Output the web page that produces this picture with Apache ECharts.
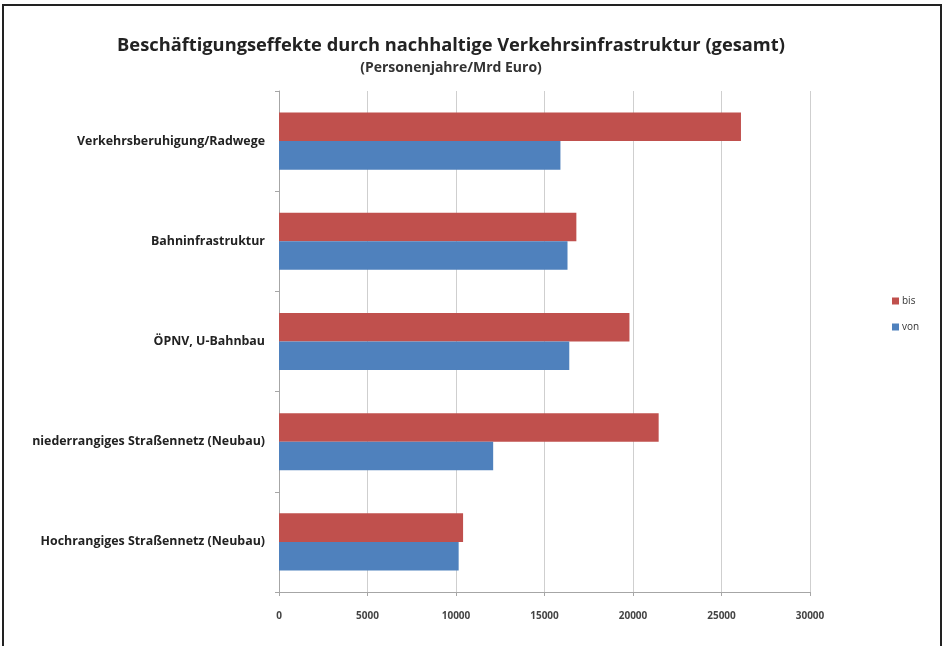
<!DOCTYPE html>
<html>
<head>
<meta charset="utf-8">
<style>
  html, body { margin: 0; padding: 0; background: #ffffff; }
  #chart { width: 946px; height: 646px; }
</style>
<script src="https://cdn.jsdelivr.net/npm/echarts@6/dist/echarts.min.js"></script>
</head>
<body>
<div id="chart"></div>
<script>
// Categories listed bottom-to-top (category axis runs upward)
const categories = [
  'Hochrangiges Straßennetz (Neubau)',
  'niederrangiges Straßennetz (Neubau)',
  'ÖPNV, U-Bahnbau',
  'Bahninfrastruktur',
  'Verkehrsberuhigung/Radwege'
];
// Employment effects in person-years per billion euro
const vonValues = [10150, 12100, 16400, 16300, 15900];
const bisValues = [10400, 21450, 19800, 16800, 26100];
const xTicks = [0, 5000, 10000, 15000, 20000, 25000, 30000];

const chart = echarts.init(document.getElementById('chart'), null, { renderer: 'canvas' });

const option = {
  backgroundColor: '#ffffff',
  animation: false,
  title: {
    text: 'Beschäftigungseffekte durch nachhaltige Verkehrsinfrastruktur (gesamt)',
    subtext: '(Personenjahre/Mrd Euro)',
    left: 446,
    textAlign: 'center',
    top: 32,
    itemGap: 6,
    textStyle: { fontFamily: 'Open Sans', fontWeight: 'bold', fontSize: 18.3, color: '#222' },
    subtextStyle: { fontFamily: 'Open Sans', fontWeight: 'bold', fontSize: 14, color: '#333' }
  },
  legend: {
    data: ['bis', 'von'],
    orient: 'vertical',
    left: 887,
    top: 291,
    itemWidth: 7,
    itemHeight: 7,
    itemGap: 16,
    icon: 'rect',
    textStyle: { fontFamily: 'Open Sans', fontSize: 10, color: '#333', padding: [0, 0, 0, -2] }
  },
  grid: { left: 279, right: 136, top: 91, bottom: 54, containLabel: false },
  xAxis: {
    type: 'value',
    min: xTicks[0],
    max: xTicks[xTicks.length - 1],
    interval: xTicks[1] - xTicks[0],
    axisLine: { show: true, lineStyle: { color: '#a6a6a6' } },
    axisTick: { show: true, length: 4, lineStyle: { color: '#a6a6a6' } },
    axisLabel: {
      margin: 19,
      fontFamily: 'Open Sans', fontWeight: 'bold', fontSize: 10, color: '#444',
      formatter: (v) => String(v)
    },
    splitLine: { show: true, lineStyle: { color: '#cfcfcf', width: 1 } }
  },
  yAxis: {
    type: 'category',
    data: categories,
    axisLine: { show: true, lineStyle: { color: '#a6a6a6' } },
    axisTick: { show: true, length: 4, lineStyle: { color: '#a6a6a6' } },
    axisLabel: { margin: 14, fontFamily: 'Open Sans', fontWeight: 'bold', fontSize: 12.4, color: '#222' }
  },
  series: [
    {
      name: 'bis',
      type: 'bar',
      data: bisValues,
      barGap: '0%',
      barCategoryGap: '43%',
      itemStyle: { color: '#C0504D' }
    },
    {
      name: 'von',
      type: 'bar',
      data: vonValues,
      barGap: '0%',
      barCategoryGap: '43%',
      itemStyle: { color: '#4F81BD' }
    }
  ],
  graphic: [
    {
      type: 'polyline',
      shape: { points: [[3, 700], [3, 5], [941, 5], [941, 700]] },
      style: { stroke: '#222', lineWidth: 2, fill: null },
      silent: true
    }
  ]
};

chart.setOption(option);
</script>
</body>
</html>
